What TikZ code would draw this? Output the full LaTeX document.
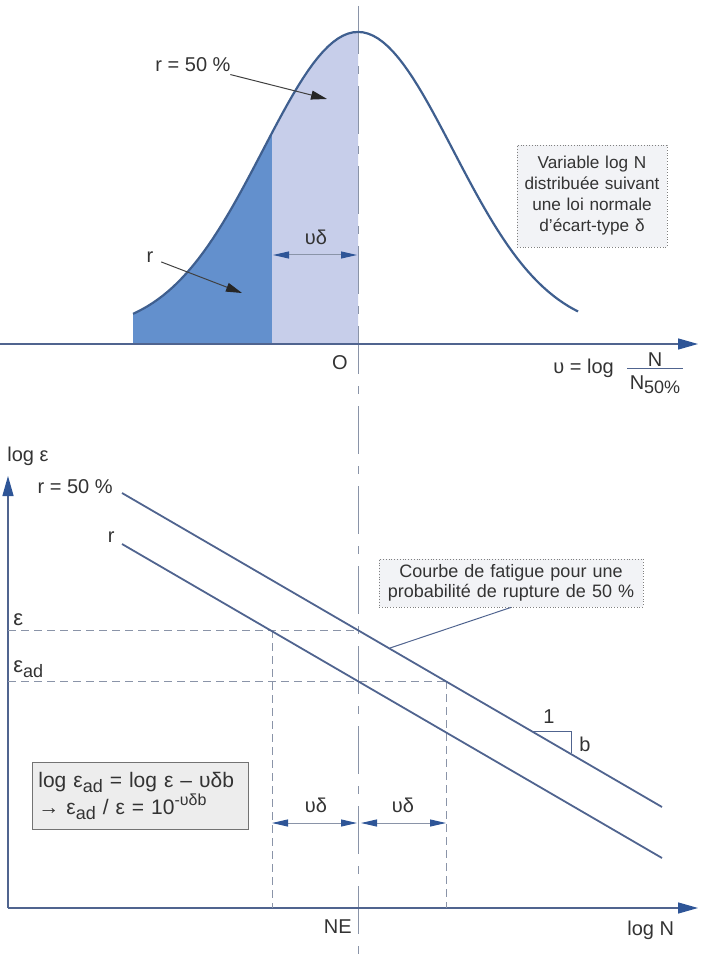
\documentclass[tikz,border=0pt]{standalone}
\usepackage{fontspec}
\setmainfont{Liberation Sans}
\usepackage{tikz}
\usetikzlibrary{positioning, arrows.meta, calc}
\definecolor{curveblue}{HTML}{3F5F8F}
\definecolor{axisblue}{HTML}{2E5597}
\definecolor{fillblue}{HTML}{6390CD}
\definecolor{filllight}{HTML}{C7CEEA}
\definecolor{lineblue}{HTML}{50648F}
\definecolor{dashgray}{HTML}{8A94A8}
\definecolor{boxgray}{HTML}{F2F3F6}
\newcommand{\lowsub}[1]{\raisebox{-0.45ex}{\small #1}}
\newcommand{\highsup}[1]{\raisebox{0.8ex}{\footnotesize #1}}

\begin{document}
\begin{tikzpicture}[
    x=0.5pt, y=-0.5pt,
    font=\fontsize{10}{12}\selectfont,
    lbl/.style={inner sep=0pt, text=black!80},
    axis/.style={draw=lineblue, line width=0.7pt, -{Triangle[length=10pt, width=5.5pt, color=axisblue]}},
    curve/.style={draw=curveblue, line width=1.1pt},
    centreline/.style={draw=dashgray, line width=0.5pt, dash pattern=on 24pt off 6pt on 4pt off 6pt},
    guide/.style={draw=dashgray, line width=0.5pt, dash pattern=on 4pt off 2.5pt},
    snline/.style={draw=lineblue, line width=0.9pt},
    pointer/.style={draw=black!75, line width=0.5pt, shorten <=4pt, -{Triangle[length=8pt, width=4.5pt, color=black!85]}},
    span/.style={draw=dashgray, line width=0.5pt, {Triangle[length=8pt, width=3.5pt, color=axisblue]}-{Triangle[length=8pt, width=3.5pt, color=axisblue]}},
    leader/.style={draw=lineblue, line width=0.5pt},
    notebox/.style={draw=black!50, densely dotted, fill=boxgray, align=center, text=black!80, inner sep=2pt, font=\fontsize{9}{10.5}\selectfont},
    formbox/.style={draw=black!55, fill=black!7, align=left, text=black!80, inner sep=3pt, text width=102pt, minimum height=33.5pt, font=\fontsize{10.5}{12.5}\selectfont}
]
\useasboundingbox (0,0) rectangle (700,956);

% normal distribution
\fill[fillblue] (133,344) -- plot[domain=-2.368:-0.905, samples=40] ({358+95*\x},{332-300*exp(-0.5*(\x)*(\x))}) -- (272,344) -- cycle;
\fill[filllight] (272,344) -- plot[domain=-0.905:0, samples=30] ({358+95*\x},{332-300*exp(-0.5*(\x)*(\x))}) -- (358,344) -- cycle;

\coordinate (ctop) at (358,6);
\coordinate (cbot) at (358,956);
\draw[centreline] (ctop) -- (cbot);

\draw[curve] plot[domain=-2.368:2.316, samples=90] ({358+95*\x},{332-300*exp(-0.5*(\x)*(\x))});

\coordinate (uleft) at (0,344);
\coordinate (uright) at (698,344);
\draw[axis] (uleft) -- (uright);

\node[lbl, anchor=base] (r50top) at (193,72) {r = 50 \%};
\coordinate (r50tip) at (327,99);
\draw[pointer] (r50top) -- (r50tip);

\node[lbl, anchor=base] (rtop) at (150,263) {r};
\coordinate (rtip) at (242,293);
\draw[pointer] (rtop) -- (rtip);

\coordinate (ud1a) at (273,255);
\coordinate (ud1b) at (357,255);
\draw[span] (ud1a) -- (ud1b);
\node[lbl, anchor=base] (ud1) at (316,245) {υδ};

\node[lbl, anchor=base] (orig) at (340,370) {O};
\node[lbl, anchor=base west] (ulog) at (553,373) {υ = log};
\node[lbl, anchor=base] (fnum) at (655,366) {N};
\node[lbl, anchor=base] (fden) at (655,389) {N\lowsub{50\%}};
\coordinate (barL) at (627,369);
\coordinate (barR) at (683,369);
\draw[leader] (barL) -- (barR);

\node[notebox, text width=71pt, minimum height=51pt, font=\fontsize{8.6}{10.5}\selectfont] (normbox) at (592,196)
    {Variable log N\\ distribuée suivant\\ une loi normale\\ d'écart-type δ};

% fatigue lines
\coordinate (yorig) at (8,908);
\coordinate (ytop) at (8,476);
\coordinate (xend) at (698,908);
\draw[axis] (yorig) -- (ytop);
\draw[axis] (yorig) -- (xend);

\coordinate (epsL) at (8,630);
\coordinate (eps50) at (358,630);
\coordinate (eadL) at (8,681);
\coordinate (ead50) at (446,681);
\coordinate (epsr) at (272,630);
\coordinate (botL) at (272,908);
\coordinate (botR) at (446,908);
\draw[guide] (epsL) -- (eps50);
\draw[guide] (eadL) -- (ead50);
\draw[guide] (epsr) -- (botL);
\draw[guide] (ead50) -- (botR);

\coordinate (s50a) at (122,493);
\coordinate (s50b) at (662,807);
\coordinate (sra) at (122,544);
\coordinate (srb) at (662,858);
\draw[snline] (s50a) -- (s50b);
\draw[snline] (sra) -- (srb);

\node[lbl, anchor=base west] (logeps) at (7,461) {log ε};
\node[lbl, anchor=base east] (r50bot) at (113,493) {r = 50 \%};
\node[lbl, anchor=base east] (rbot) at (115,542) {r};
\node[lbl, anchor=base west, font=\fontsize{11}{12}\selectfont] (epslbl) at (13,625) {ε};
\node[lbl, anchor=base west, font=\fontsize{11}{12}\selectfont] (eadlbl) at (13,672) {ε\lowsub{ad}};

\node[notebox, text width=128pt, minimum height=24pt, font=\fontsize{9}{10}\selectfont] (fatbox) at (511,583)
    {Courbe de fatigue pour une\\ probabilité de rupture de 50 \%};
\coordinate (fatpt) at (390,648);
\draw[leader] (fatbox.south) -- (fatpt);

\coordinate (sl1) at (532,731);
\coordinate (sl2) at (571,731);
\coordinate (sl3) at (571,753);
\draw[leader] (sl1) -- (sl2) -- (sl3);
\node[lbl, anchor=base] (slone) at (549,723) {1};
\node[lbl, anchor=base west] (slb) at (579,751) {b};

\node[formbox, anchor=north west] (formula) at (32,762)
    {log ε\lowsub{ad} = log ε – υδb\\ → ε\lowsub{ad} / ε = 10\highsup{-υδb}};

\coordinate (ud2a) at (272,823);
\coordinate (ud2b) at (357,823);
\coordinate (ud3a) at (361,823);
\coordinate (ud3b) at (446,823);
\draw[span] (ud2a) -- (ud2b);
\draw[span] (ud3a) -- (ud3b);
\node[lbl, anchor=base] (ud2) at (316,812) {υδ};
\node[lbl, anchor=base] (ud3) at (403,812) {υδ};

\node[lbl, anchor=base east] (nelbl) at (352,933) {NE};
\node[lbl, anchor=base west] (lognlbl) at (627,935) {log N};
\end{tikzpicture}
\end{document}
